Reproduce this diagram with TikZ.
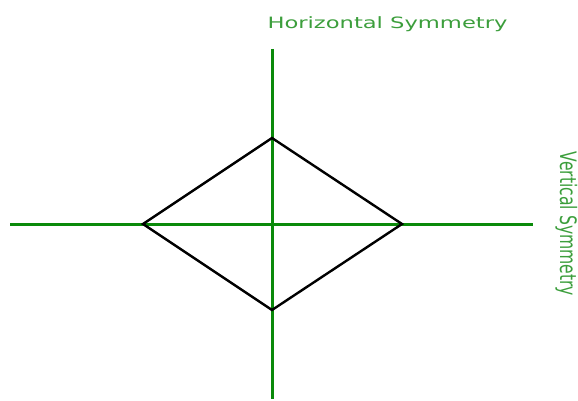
\documentclass[tikz,border=0pt]{standalone}
\usepackage{fontspec}
\setmainfont{DejaVu Sans}
\definecolor{AxisGreen}{HTML}{0A8A0A}
\definecolor{LabelGreen}{HTML}{3C9E3C}
\begin{document}
\begin{tikzpicture}[
  x=1pt, y=-1pt,
  axisline/.style={draw=AxisGreen, line width=3pt},
  diamondline/.style={draw=black, line width=2.4pt, line join=miter},
  axislbl/.style={font=\fontsize{15.6}{18}\selectfont, text=LabelGreen, inner sep=0pt, anchor=base},
]
\useasboundingbox (0,0) rectangle (578,401);
\def\cx{272}
\def\cy{224}
% symmetry axes
\coordinate (vtop) at (\cx,49);
\coordinate (vbot) at (\cx,399);
\coordinate (hleft) at (10,\cy);
\coordinate (hright) at (533,\cy);
\draw[axisline] (vtop) -- (vbot);
\draw[axisline] (hleft) -- (hright);
% diamond corners
\coordinate (dtop) at (\cx,138);
\coordinate (dleft) at (143,\cy);
\coordinate (dright) at (402,\cy);
\coordinate (dbot) at (\cx,310);
\draw[diamondline] (dtop) -- (dright) -- (dbot) -- (dleft) -- cycle;
% labels
\node[axislbl] (hlbl) at (387.5,28.5) {\scalebox{1.45}[1]{Horizontal Symmetry}};
\node[axislbl, rotate=-90] (vlbl) at (560,224) {\scalebox{1}[1.45]{Vertical Symmetry}};
\end{tikzpicture}
\end{document}
